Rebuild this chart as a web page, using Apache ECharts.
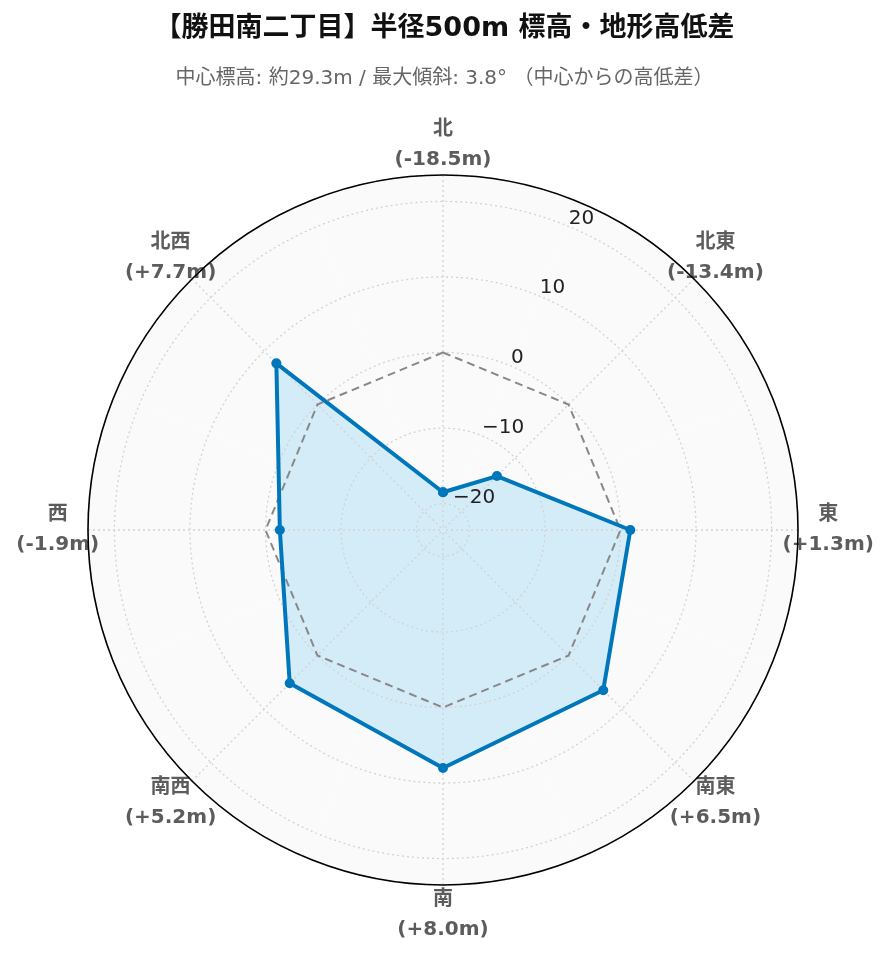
<!DOCTYPE html>
<html><head><meta charset="utf-8">
<script src="https://cdn.jsdelivr.net/npm/echarts@6/dist/echarts.min.js"></script>
<style>html,body{margin:0;padding:0;background:#fff}#c{width:889px;height:962px}</style>
</head><body><div id="c"></div>
<script>
var directions = ['北','北東','東','南東','南','南西','西','北西'];
var bearings = [0, 45, 90, 135, 180, 225, 270, 315];
var diffs = [-18.5, -13.4, 1.3, 6.5, 8.0, 5.2, -1.9, 7.7];
var zeroLine = [0, 0, 0, 0, 0, 0, 0, 0];
var radialTicks = [-20, -10, 0, 10, 20];
var titleText = '【勝田南二丁目】半径500m 標高・地形高低差';
var subText = '中心標高: 約29.3m / 最大傾斜: 3.8° （中心からの高低差）';

var FONT = "'DejaVu Sans', 'Noto Sans CJK JP', sans-serif";
var RMIN = -23.5, RMAX = 23.5, LABEL_R = 27.5;

function closed(vals) {
  var d = vals.map(function (v, i) { return [v, bearings[i]]; });
  d.push([vals[0], bearings[0] + 360]);
  return d;
}
function fmt(v) { return '(' + (v > 0 ? '+' : '') + v.toFixed(1) + 'm)'; }
function isTick(v) { return radialTicks.indexOf(Math.round(v * 10) / 10) >= 0; }

var chart = echarts.init(document.getElementById('c'));
var radiusCommon = { type: 'value', min: RMIN, max: RMAX, splitNumber: 5 };
var angleCommon = { type: 'value', min: 0, max: 360, interval: 45, clockwise: true };
var gridLine = { color: '#d2d2d2', type: [2, 3], width: 1.3 };
chart.setOption({
  animation: false,
  title: [
    { text: titleText, left: 'center', top: 10,
      textStyle: { fontFamily: FONT, fontSize: 27, fontWeight: 'bold', color: '#111' } },
    { text: subText, left: 'center', top: 64,
      textStyle: { fontFamily: FONT, fontSize: 20, fontWeight: 'normal', color: '#666' } }
  ],
  polar: [
    { center: [443, 530], radius: 355 },
    { center: [443, 530], radius: 355 },
    { center: [443, 530], radius: 355 }
  ],
  angleAxis: [
    Object.assign({ polarIndex: 0, startAngle: 90, z: 3 }, angleCommon, {
      axisLine: { show: false },
      axisTick: { show: false }, axisLabel: { show: false },
      splitLine: { show: true, lineStyle: gridLine } }),
    Object.assign({ polarIndex: 1, startAngle: 67.5, z: 0 }, angleCommon, {
      axisLine: { show: false },
      axisTick: { show: false }, axisLabel: { show: false },
      splitLine: { show: false },
      splitArea: { show: true, areaStyle: { color: ['#fafafa', '#fafafa'] } } }),
    Object.assign({ polarIndex: 2, startAngle: 67.5, z: 6 }, angleCommon, {
      axisLine: { show: true, lineStyle: { color: '#000', width: 1.6, type: 'solid' } },
      axisTick: { show: false }, axisLabel: { show: false },
      splitLine: { show: false } })
  ],
  radiusAxis: [
    Object.assign({ polarIndex: 0, z: 3 }, radiusCommon, {
      axisLine: { show: false }, axisTick: { show: false }, axisLabel: { show: false },
      splitLine: { show: true, lineStyle: gridLine } }),
    Object.assign({ polarIndex: 1, z: 0 }, radiusCommon, {
      axisLine: { show: false }, axisTick: { show: false }, axisLabel: { show: false },
      splitLine: { show: false } }),
    Object.assign({ polarIndex: 2, z: 6 }, radiusCommon, {
      axisLine: { show: false }, axisTick: { show: false }, splitLine: { show: false },
      axisLabel: { show: true, fontFamily: FONT, fontSize: 20, color: '#222', margin: 0,
        align: 'left', verticalAlign: 'bottom', padding: [0, 0, -2, 0],
        formatter: function (v) {
          if (!isTick(v)) return '';
          return v < 0 ? '\u2212' + Math.abs(v) : String(v);
        } } })
  ],
  series: [
    { type: 'line', coordinateSystem: 'polar', polarIndex: 0, data: closed(diffs),
      symbol: 'none', z: 1, lineStyle: { width: 0, opacity: 0 },
      areaStyle: { origin: 'start', color: '#d4ecf8', opacity: 1 } },
    { type: 'line', coordinateSystem: 'polar', polarIndex: 0, data: closed(zeroLine),
      symbol: 'none', z: 4,
      lineStyle: { color: '#888', width: 2, type: [8, 5] } },
    { type: 'line', coordinateSystem: 'polar', polarIndex: 0, data: closed(diffs),
      symbol: 'circle', symbolSize: 10, z: 5,
      lineStyle: { color: '#0077BB', width: 4 },
      itemStyle: { color: '#0077BB' } },
    { type: 'scatter', coordinateSystem: 'polar', polarIndex: 0, clip: false,
      symbolSize: 0, silent: true,
      data: directions.map(function (d, i) { return [LABEL_R, bearings[i]]; }),
      label: { show: true, position: 'inside', align: 'center', verticalAlign: 'middle',
        fontFamily: FONT, fontSize: 20, fontWeight: 'bold', color: '#333', lineHeight: 30,
        formatter: function (p) { return directions[p.dataIndex] + '\n' + fmt(diffs[p.dataIndex]); } } }
  ]
});
</script></body></html>
